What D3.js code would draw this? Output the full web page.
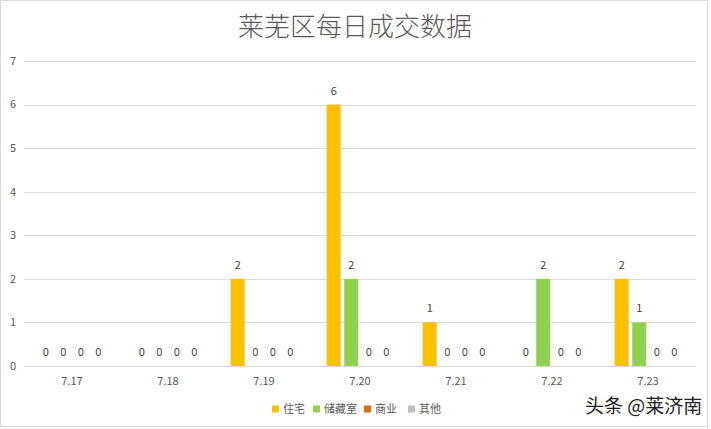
<!DOCTYPE html>
<html><head><meta charset="utf-8">
<script src="https://cdn.jsdelivr.net/npm/d3@7"></script>
<style>body{margin:0;background:#fff;}svg{display:block;font-family:"Noto Sans CJK SC","Noto Sans",sans-serif;}</style>
</head><body>
<svg id="c" width="711" height="429"></svg>
<script>
const categories = ["7.17","7.18","7.19","7.20","7.21","7.22","7.23"];
const seriesNames = ["住宅","储藏室","商业","其他"];
const zhuzhai = [0,0,2,6,1,0,2];
const chucangshi = [0,0,0,2,0,2,1];
const shangye = [0,0,0,0,0,0,0];
const qita = [0,0,0,0,0,0,0];
const yTicks = [0,1,2,3,4,5,6,7];
const colors = ["#FFC000","#92D050","#E46C0A","#BFBFBF"];
const seriesValues = [zhuzhai, chucangshi, shangye, qita];

const svg = d3.select("#c");
svg.append("rect").attr("x",0.5).attr("y",0.5).attr("width",707).attr("height",426)
  .attr("fill","#fff").attr("stroke","#d9d9d9");

const pL=24, pR=696, pT=61, pB=366;
const x0 = d3.scaleBand().domain(categories).range([pL,pR]).paddingInner(0.307).paddingOuter(0.1535);
const x1 = d3.scaleBand().domain(seriesNames).range([0,x0.bandwidth()]).paddingInner(0.2).paddingOuter(0);
const y = d3.scaleLinear().domain([0,7]).range([pB,pT]);

// grid
svg.append("g").selectAll("line").data(yTicks).join("line")
  .attr("x1",pL).attr("x2",pR).attr("y1",d=>Math.round(y(d))+0.5).attr("y2",d=>Math.round(y(d))+0.5)
  .attr("stroke","#d9d9d9").attr("stroke-width",1);
svg.append("g").selectAll("text").data(yTicks).join("text")
  .attr("x",13).attr("y",d=>y(d)).attr("dy","0.35em").attr("text-anchor","middle")
  .attr("font-size",11).attr("fill","#595959").text(d=>d);

// x labels
svg.append("g").selectAll("text").data(categories).join("text")
  .attr("x",d=>x0(d)+x0.bandwidth()/2).attr("y",381).attr("dy","0.35em").attr("text-anchor","middle")
  .attr("font-size",11).attr("fill","#595959").text(d=>d);

// bars
const groups = svg.append("g").selectAll("g").data(categories).join("g")
  .attr("transform",d=>`translate(${x0(d)},0)`);
groups.each(function(cat,ci){
  const g = d3.select(this);
  const data = seriesNames.map((s,si)=>({s,si,v:seriesValues[si][ci]}));
  g.selectAll("rect").data(data).join("rect")
    .attr("x",d=>x1(d.s)).attr("width",x1.bandwidth())
    .attr("y",d=>y(d.v)).attr("height",d=>y(0)-y(d.v)).attr("fill",d=>colors[d.si]);
  g.selectAll("text").data(data).join("text")
    .attr("x",d=>x1(d.s)+x1.bandwidth()/2).attr("y",d=>y(d.v)-10)
    .attr("text-anchor","middle").attr("font-size",11).attr("fill","#404040").text(d=>d.v);
});

// title
svg.append("text").attr("x",355).attr("y",27).attr("dy","0.35em").attr("text-anchor","middle")
  .attr("font-size",26).attr("font-weight",300).attr("fill","#595959").text("莱芜区每日成交数据");

// legend
const legX = [272,313,364,408];
const leg = svg.append("g").selectAll("g").data(seriesNames).join("g")
  .attr("transform",(d,i)=>`translate(${legX[i]},409)`);
leg.append("rect").attr("x",0).attr("y",-3.5).attr("width",7).attr("height",7).attr("fill",(d,i)=>colors[i]);
leg.append("text").attr("x",11).attr("y",0).attr("dy","0.35em").attr("font-size",11).attr("fill","#595959").text(d=>d);

// watermark
svg.append("text").attr("x",585).attr("y",406).attr("dy","0.35em").attr("font-size",19).attr("fill","#222").text("头条 @莱济南");
</script>
</body></html>
